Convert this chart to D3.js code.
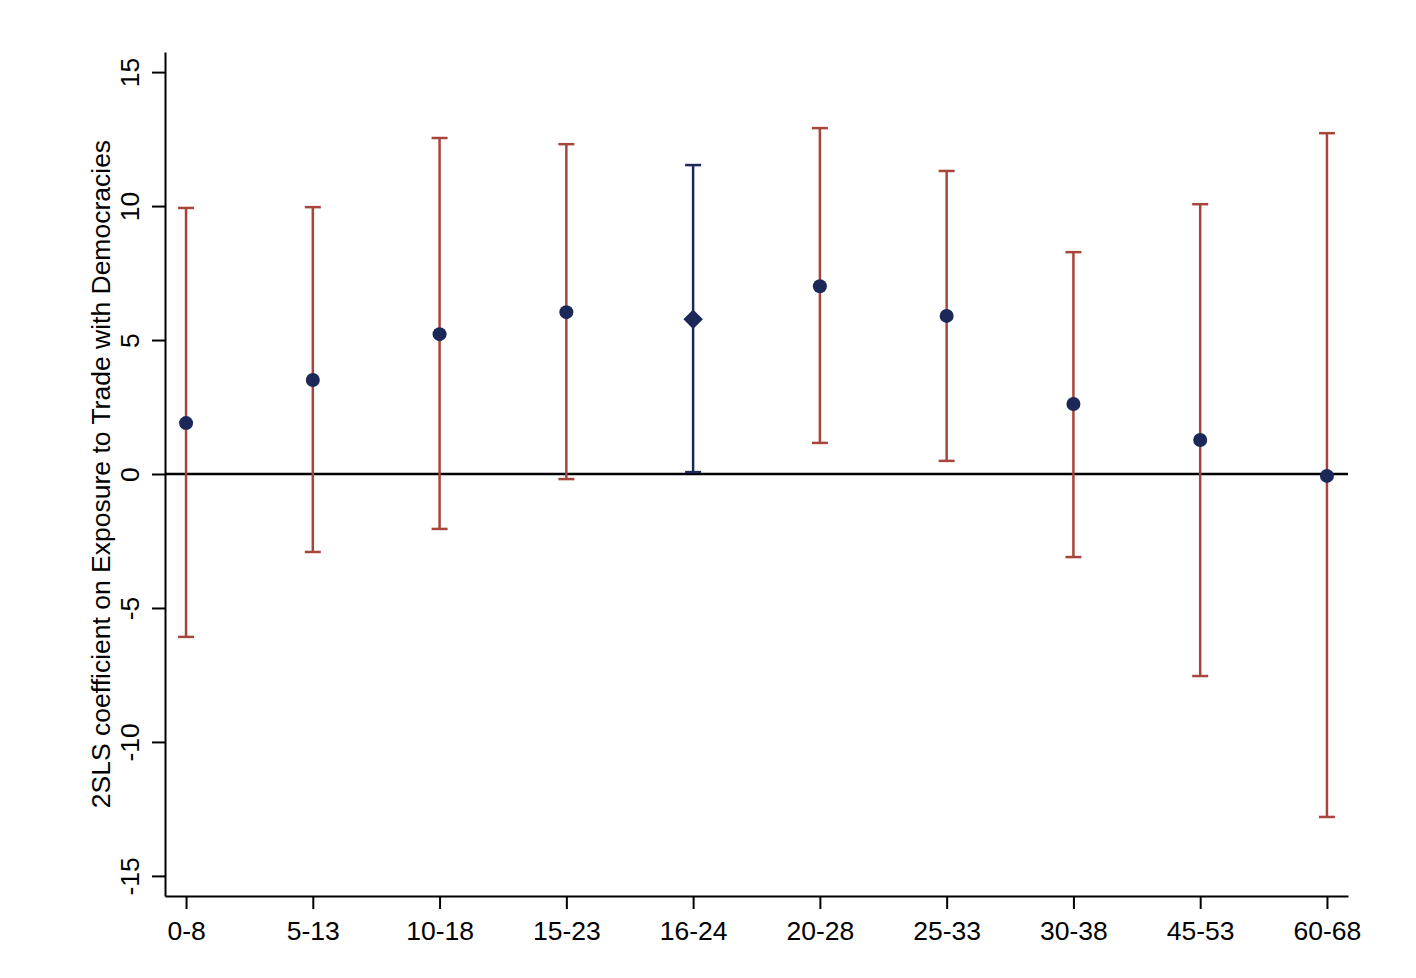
<!DOCTYPE html>
<html><head><meta charset="utf-8">
<script src="https://cdn.jsdelivr.net/npm/d3@7"></script>
<style>body{margin:0;background:#fff;} svg{display:block;font-family:Arial,"Liberation Sans",sans-serif;}</style>
</head><body>
<svg id="c" width="1416" height="978"></svg>
<script>
const categories = ["0-8","5-13","10-18","15-23","16-24","20-28","25-33","30-38","45-53","60-68"];
const estimates  = [1.9, 3.51, 5.22, 6.04, 5.78, 7.01, 5.9, 2.61, 1.27, -0.07];
const upper      = [9.93, 9.96, 12.54, 12.31, 11.53, 12.91, 11.31, 8.28, 10.07, 12.72];
const lower      = [-6.08, -2.91, -2.05, -0.19, 0.07, 1.16, 0.49, -3.1, -7.54, -12.8];
const highlight  = [false,false,false,false,true,false,false,false,false,false];
const yTicks     = [-15,-10,-5,0,5,10,15];
const yTitle     = "2SLS coefficient on Exposure to Trade with Democracies";

const red = "#a8453b", navy = "#1b2858";
const fs = "26.5px";
const svg = d3.select("#c");
const x = d3.scaleLinear().domain([-0.166, 9.166]).range([165, 1348]);
const y = d3.scaleLinear().domain([-15.75, 15.75]).range([896, 52]);

// axes
const yAxis = svg.append("g").attr("transform","translate(165,0)")
  .call(d3.axisLeft(y).tickValues(yTicks).tickSize(13).tickSizeOuter(0).tickFormat(d3.format("d")));
yAxis.select(".domain").attr("stroke","#000").attr("stroke-width",2);
yAxis.selectAll(".tick line").attr("stroke","#000").attr("stroke-width",2);
yAxis.selectAll(".tick text").remove();
yAxis.selectAll(".tick").append("text")
  .attr("transform","translate(-26,0) rotate(-90)")
  .attr("text-anchor","middle").attr("fill","#000")
  .style("font-size",fs).text(d=>d);

const xAxis = svg.append("g").attr("transform","translate(0,896)")
  .call(d3.axisBottom(x).tickValues(d3.range(categories.length)).tickSize(13).tickSizeOuter(0).tickFormat(i=>categories[i]));
xAxis.select(".domain").attr("stroke","#000").attr("stroke-width",2);
xAxis.selectAll(".tick line").attr("stroke","#000").attr("stroke-width",2);
xAxis.selectAll(".tick text").attr("y",25).attr("dy","0.71em").attr("fill","#000").style("font-size",fs);

svg.append("text")
  .attr("transform",`translate(110,${y(0)}) rotate(-90)`)
  .attr("text-anchor","middle").style("font-size",fs).attr("fill","#000")
  .text(yTitle);

// zero line
svg.append("line").attr("x1",165).attr("x2",1348).attr("y1",y(0)).attr("y2",y(0))
  .attr("stroke","#000").attr("stroke-width",2.5);

const idx = d3.range(categories.length);
const g = svg.append("g");
g.selectAll("line.ci").data(idx).join("line")
  .attr("x1",i=>x(i)).attr("x2",i=>x(i))
  .attr("y1",i=>y(lower[i])).attr("y2",i=>y(upper[i]))
  .attr("stroke",i=>highlight[i]?navy:red).attr("stroke-width",2.5);
[upper, lower].forEach(arr=>{
  g.selectAll(null).data(idx).join("line")
    .attr("x1",i=>x(i)-8).attr("x2",i=>x(i)+8)
    .attr("y1",i=>y(arr[i])).attr("y2",i=>y(arr[i]))
    .attr("stroke",i=>highlight[i]?navy:red).attr("stroke-width",2.5);
});
g.selectAll("circle").data(idx.filter(i=>!highlight[i])).join("circle")
  .attr("cx",i=>x(i)).attr("cy",i=>y(estimates[i])).attr("r",7).attr("fill",navy);
g.selectAll("path.dia").data(idx.filter(i=>highlight[i])).join("path")
  .attr("d",d3.symbol().type(d3.symbolSquare).size(190))
  .attr("transform",i=>`translate(${x(i)},${y(estimates[i])}) rotate(45)`)
  .attr("fill",navy);
</script>
</body></html>
